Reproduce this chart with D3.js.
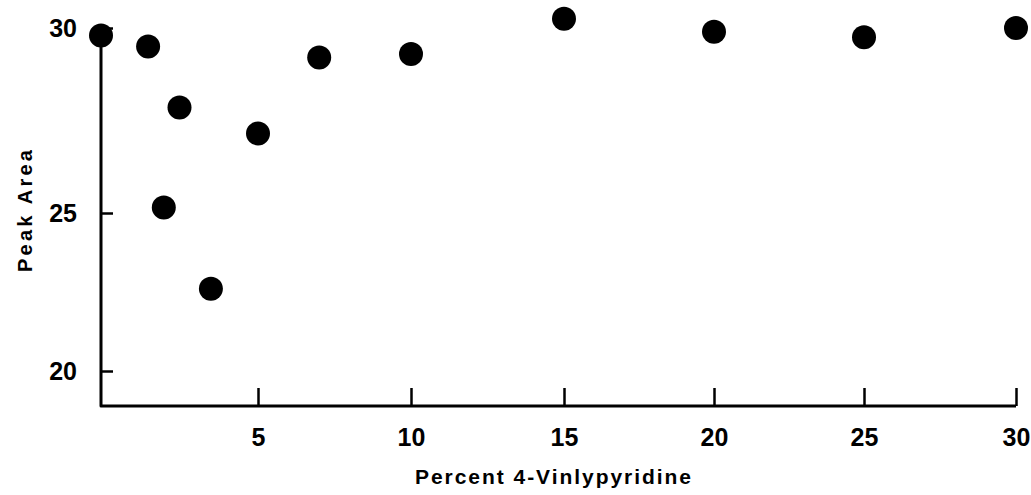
<!DOCTYPE html>
<html>
<head>
<meta charset="utf-8">
<script src="https://cdn.jsdelivr.net/npm/d3@7"></script>
<style>
  body { margin: 0; background: #fff; }
  text { font-family: "Liberation Sans", Arial, sans-serif; font-weight: bold; fill: #000; }
</style>
</head>
<body>
<div id="chart"></div>
<script>
// data
const percentVP = [0, 1.5, 2, 2.5, 3.5, 5, 7, 10, 15, 20, 25, 30];
const peakArea  = [29.8, 29.5, 25.15, 27.85, 22.6, 27.15, 29.2, 29.3, 30.25, 29.9, 29.75, 30.0];
const xTicks = [5, 10, 15, 20, 25, 30];
const yTicks = [20, 25, 30];

const W = 1031, H = 495;
const left = 101, bottom = 406;

const svg = d3.select("#chart")
    .append("svg")
    .attr("width", W)
    .attr("height", H);

// the original was drawn by hand, so the tick spacing is a bit uneven
const x = d3.scaleLinear().domain([0, 5, 10, 15, 20, 25, 30]).range([left, 258, 411, 564, 714, 864, 1016]);
const y = d3.scaleLinear().domain([20, 25, 30]).range([371, 213, 28]);

// axis frame
svg.append("path")
    .attr("d", d3.line()([[left, y(30)], [left, bottom], [x(30), bottom]]))
    .attr("fill", "none")
    .attr("stroke", "#000")
    .attr("stroke-width", 3)
    .attr("stroke-linejoin", "round");

const xAxis = svg.append("g")
    .attr("transform", `translate(0,${bottom})`)
    .call(d3.axisBottom(x).tickValues(xTicks).tickSizeInner(-18).tickSizeOuter(0).tickPadding(22));
xAxis.select(".domain").remove();
xAxis.selectAll("line").attr("stroke-width", 2.5);
xAxis.selectAll("text").style("font-size", "25px");

const yAxis = svg.append("g")
    .attr("transform", `translate(${left},0)`)
    .call(d3.axisLeft(y).tickValues(yTicks).tickSizeInner(-12).tickSizeOuter(0).tickPadding(24));
yAxis.select(".domain").remove();
yAxis.selectAll("line").attr("stroke-width", 2.5);
yAxis.selectAll("text").style("font-size", "25px");

// points
svg.selectAll(".dot")
    .data(percentVP.map((p, i) => ({p, a: peakArea[i]})))
    .enter()
    .append("circle")
    .attr("class", "dot")
    .attr("cx", d => x(d.p))
    .attr("cy", d => y(d.a))
    .attr("r", 12)
    .attr("fill", "#000");

// axis titles
svg.append("text")
    .attr("x", 415)
    .attr("y", 484)
    .attr("textLength", 276)
    .attr("lengthAdjust", "spacing")
    .style("font-size", "21px")
    .text("Percent  4-Vinlypyridine");

svg.append("text")
    .attr("transform", "translate(32,272) rotate(-90)")
    .attr("textLength", 122)
    .attr("lengthAdjust", "spacing")
    .style("font-size", "20px")
    .text("Peak  Area");
</script>
</body>
</html>
